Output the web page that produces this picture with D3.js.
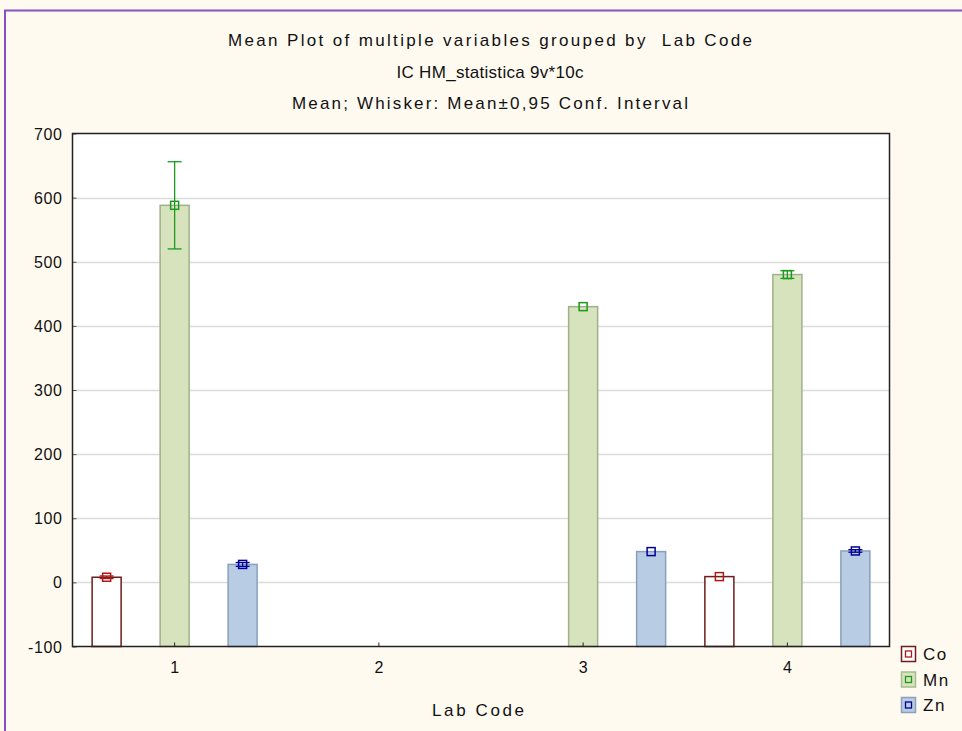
<!DOCTYPE html>
<html>
<head>
<meta charset="utf-8">
<script src="https://cdn.jsdelivr.net/npm/d3@7"></script>
<style>
  html, body { margin: 0; padding: 0; background: #fffaf0; }
  svg { display: block; }
  text { font-family: "Liberation Sans", Arial, sans-serif; white-space: pre; }
</style>
</head>
<body>
<svg id="chart" width="962" height="731"></svg>
<script>
// Lab codes along the x axis
const labCodes = ["1", "2", "3", "4"];
// Variables plotted in each group
const variables = ["Co", "Mn", "Zn"];
// Mean per variable for each lab code (null = no data)
const meanCo = [8, null, null, 9];
const meanMn = [588, null, 430, 480];
const meanZn = [28, null, 48, 49];
// Half-width of the 0.95 confidence interval
const ciCo = [2, null, 0, 0];
const ciMn = [68, null, 0, 6];
const ciZn = [3, null, 0, 2];
// Y axis ticks
const yTicks = [-100, 0, 100, 200, 300, 400, 500, 600, 700];
const titleLines = [
  "Mean Plot of multiple variables grouped by  Lab Code",
  "IC HM_statistica 9v*10c",
  "Mean; Whisker: Mean\u00b10,95 Conf. Interval"
];

const means = { Co: meanCo, Mn: meanMn, Zn: meanZn };
const cis = { Co: ciCo, Mn: ciMn, Zn: ciZn };
const styles = {
  Co: { fill: "#ffffff", stroke: "#6e1c1c", marker: "#b01818", legendStroke: "#6e1c1c" },
  Mn: { fill: "#d7e3bd", stroke: "#9fb08a", marker: "#1c9a1c", legendStroke: "#a8ba90" },
  Zn: { fill: "#b8cce4", stroke: "#8a9fbb", marker: "#000099", legendStroke: "#8a9fbb" }
};

const svg = d3.select("#chart");

// outer frame
svg.append("rect").attr("x", 0).attr("y", 0).attr("width", 962).attr("height", 731).attr("fill", "#fffaf0");
svg.append("path").attr("d", "M5,731 V10.5 H962").attr("fill", "none").attr("stroke", "#8a4fc0").attr("stroke-width", 2);

const plot = { left: 72.5, right: 889.5, top: 133.5, bottom: 646.5 };

const x = d3.scaleBand().domain(labCodes).range([plot.left, plot.right]).paddingInner(0).paddingOuter(0);
const y = d3.scaleLinear().domain([-100, 700]).range([plot.bottom, plot.top]);
const sub = d3.scalePoint().domain(variables).range([-68, 68]);
const barW = 29;

// plot background
svg.append("rect")
  .attr("x", plot.left).attr("y", plot.top)
  .attr("width", plot.right - plot.left).attr("height", plot.bottom - plot.top)
  .attr("fill", "#ffffff");

// grid lines
svg.append("g").selectAll("line")
  .data(yTicks.filter(t => t > -100 && t < 700))
  .join("line")
  .attr("x1", plot.left).attr("x2", plot.right)
  .attr("y1", d => Math.round(y(d)) + 0.5).attr("y2", d => Math.round(y(d)) + 0.5)
  .attr("stroke", "#dcdcdc").attr("stroke-width", 1.5);

// bars, whiskers and mean markers
const rows = [];
labCodes.forEach((c, i) => {
  variables.forEach(v => {
    if (means[v][i] != null) rows.push({ code: c, v, mean: means[v][i], ci: cis[v][i] });
  });
});

const cx = d => x(d.code) + x.bandwidth() / 2 + sub(d.v);

const g = svg.append("g");
g.selectAll("rect.bar").data(rows).join("rect")
  .attr("class", "bar")
  .attr("x", d => cx(d) - barW / 2)
  .attr("y", d => y(d.mean))
  .attr("width", barW)
  .attr("height", d => y(-100) - y(d.mean))
  .attr("fill", d => styles[d.v].fill)
  .attr("stroke", d => styles[d.v].stroke)
  .attr("stroke-width", 1.5);

const w = g.selectAll("g.whisk").data(rows.filter(d => d.ci > 0)).join("g").attr("class", "whisk");
w.append("line")
  .attr("x1", cx).attr("x2", cx)
  .attr("y1", d => y(d.mean + d.ci)).attr("y2", d => y(d.mean - d.ci))
  .attr("stroke", d => styles[d.v].marker).attr("stroke-width", 1.3);
w.append("line")
  .attr("x1", d => cx(d) - 7).attr("x2", d => cx(d) + 7)
  .attr("y1", d => y(d.mean + d.ci)).attr("y2", d => y(d.mean + d.ci))
  .attr("stroke", d => styles[d.v].marker).attr("stroke-width", 1.3);
w.append("line")
  .attr("x1", d => cx(d) - 7).attr("x2", d => cx(d) + 7)
  .attr("y1", d => y(d.mean - d.ci)).attr("y2", d => y(d.mean - d.ci))
  .attr("stroke", d => styles[d.v].marker).attr("stroke-width", 1.3);

g.selectAll("rect.mk").data(rows).join("rect")
  .attr("class", "mk")
  .attr("x", d => cx(d) - 4).attr("y", d => y(d.mean) - 4)
  .attr("width", 8).attr("height", 8)
  .attr("fill", "none")
  .attr("stroke", d => styles[d.v].marker).attr("stroke-width", 1.5);

// axes
const yAxis = d3.axisLeft(y).tickValues(yTicks).tickFormat(d => String(d)).tickSize(-4).tickPadding(10);
const yg = svg.append("g").attr("transform", `translate(${plot.left},0)`).call(yAxis);
yg.select(".domain").remove();
yg.selectAll("line").attr("stroke", "#555");
yg.selectAll("text").attr("font-size", 16).attr("letter-spacing", 0.6).attr("fill", "#111").attr("dy", "0.35em");

const xAxis = d3.axisBottom(x).tickSize(-4).tickPadding(15);
const xg = svg.append("g").attr("transform", `translate(0,${plot.bottom})`).call(xAxis);
xg.select(".domain").remove();
xg.selectAll("line").attr("stroke", "#222");
xg.selectAll("text").attr("font-size", 16).attr("fill", "#111");

// plot frame
svg.append("rect")
  .attr("x", plot.left).attr("y", plot.top)
  .attr("width", plot.right - plot.left).attr("height", plot.bottom - plot.top)
  .attr("fill", "none").attr("stroke", "#222").attr("stroke-width", 1.5);

// titles
const titleWidths = [524, 187, 396];
svg.append("g").selectAll("text").data(titleLines).join("text")
  .attr("x", 490).attr("y", (d, i) => 46 + i * 31.5)
  .attr("text-anchor", "middle").attr("font-size", 17).attr("fill", "#111")
  .attr("textLength", (d, i) => titleWidths[i]).attr("lengthAdjust", "spacing")
  .text(d => d);

svg.append("text").attr("x", 478).attr("y", 716)
  .attr("text-anchor", "middle").attr("font-size", 17).attr("fill", "#111")
  .attr("textLength", 92).attr("lengthAdjust", "spacing")
  .text("Lab Code");

// legend
const lg = svg.append("g").selectAll("g").data(variables).join("g")
  .attr("transform", (d, i) => `translate(901,${646 + i * 25.5})`);
lg.append("rect").attr("x", 0.5).attr("y", 0.5).attr("width", 14).attr("height", 15)
  .attr("fill", d => styles[d].fill).attr("stroke", d => styles[d].legendStroke).attr("stroke-width", 1.5);
lg.append("rect").attr("x", 4.5).attr("y", 5).attr("width", 6).attr("height", 6)
  .attr("fill", "none").attr("stroke", d => styles[d].marker).attr("stroke-width", 1.3);
lg.append("text").attr("x", 22).attr("y", 14).attr("font-size", 17).attr("letter-spacing", 1.5).attr("fill", "#111").text(d => d);
</script>
</body>
</html>
